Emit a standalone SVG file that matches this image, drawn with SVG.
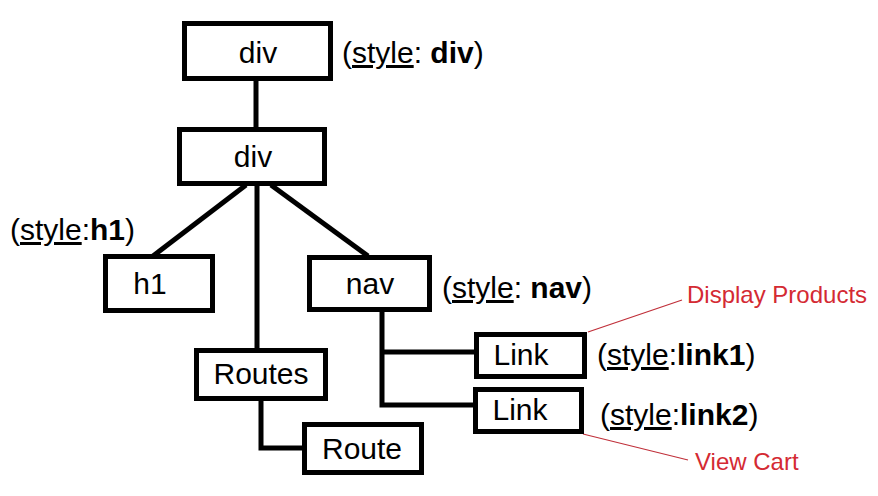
<svg xmlns="http://www.w3.org/2000/svg" width="878" height="496" viewBox="0 0 878 496">
<style>
.box{fill:#fff;stroke:#000;stroke-width:5}
.t{font-family:"Liberation Sans",Arial,sans-serif;font-size:30px;fill:#000;text-anchor:middle}
.lbl{font-family:"Liberation Sans",Arial,sans-serif;font-size:30px;fill:#000}
.b{font-weight:bold}
.u{text-decoration:underline}
.red{font-family:"Liberation Sans",Arial,sans-serif;font-size:24px;fill:#d42a33}
.c{fill:none;stroke:#000;stroke-width:5}
.rl{stroke:#c0303a;stroke-width:1.2}
</style>
<rect width="878" height="496" fill="#fff"/>
<g id="connectors">
<line class="c" x1="256" y1="81" x2="256" y2="128"/>
<line class="c" x1="246" y1="185" x2="153" y2="256"/>
<line class="c" x1="257" y1="185" x2="257" y2="349"/>
<line class="c" x1="271" y1="185" x2="368" y2="256"/>
<path class="c" d="M261,401 V448 H303"/>
<path class="c" d="M382,311 V405 H474"/>
<path class="c" d="M382,352 H475"/>
<line class="rl" x1="682" y1="300" x2="588" y2="332"/>
<line class="rl" x1="583" y1="434" x2="688" y2="460"/>
</g>
<g id="div1"><rect class="box" x="184.5" y="23.5" width="146" height="55"/><text class="t" x="258" y="63">div</text></g>
<g id="div2"><rect class="box" x="179.5" y="129.5" width="145" height="54"/><text class="t" x="253" y="167">div</text></g>
<g id="h1"><rect class="box" x="105.5" y="256.5" width="107" height="54"/><text class="t" x="150" y="294">h1</text></g>
<g id="nav"><rect class="box" x="309.5" y="257.5" width="120" height="52"/><text class="t" x="370" y="294">nav</text></g>
<g id="routes"><rect class="box" x="196.5" y="350.5" width="129" height="48"/><text class="t" x="261" y="384">Routes</text></g>
<g id="route"><rect class="box" x="304.5" y="424.5" width="117" height="48"/><text class="t" x="362" y="459">Route</text></g>
<g id="link1"><rect class="box" x="476.5" y="334.5" width="108" height="42"/><text class="t" x="521" y="365">Link</text></g>
<g id="link2"><rect class="box" x="475.5" y="389.5" width="106" height="42"/><text class="t" x="520" y="420">Link</text></g>
<g id="labels">
<text class="lbl" x="342" y="63">(<tspan class="u">style</tspan>: <tspan class="b">div</tspan>)</text>
<text class="lbl" x="10" y="240">(<tspan class="u">style</tspan>:<tspan class="b">h1</tspan>)</text>
<text class="lbl" x="442" y="298">(<tspan class="u">style</tspan>: <tspan class="b">nav</tspan>)</text>
<text class="lbl" x="597" y="365">(<tspan class="u">style</tspan>:<tspan class="b">link1</tspan>)</text>
<text class="lbl" x="600" y="425">(<tspan class="u">style</tspan>:<tspan class="b">link2</tspan>)</text>
<text class="red" x="687" y="303">Display Products</text>
<text class="red" x="695" y="470">View Cart</text>
</g>
</svg>
